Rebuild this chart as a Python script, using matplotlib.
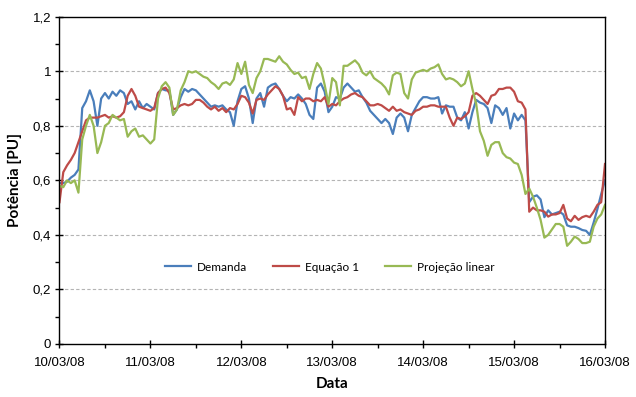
import numpy as np
import matplotlib
matplotlib.use("Agg")
import matplotlib.pyplot as plt
from matplotlib.ticker import MultipleLocator, FuncFormatter

# ---------------- data (hourly samples, 10/03/08 00h -> 16/03/08 00h) ----------------
date_labels = ["10/03/08", "11/03/08", "12/03/08", "13/03/08", "14/03/08", "15/03/08", "16/03/08"]
series_names = ["Demanda", "Equação 1", "Projeção linear"]

demanda = [
    0.59, 0.59, 0.595, 0.61, 0.62, 0.64, 0.865, 0.89, 0.93, 0.89, 0.80, 0.90, 0.92, 0.90, 0.925, 0.91, 0.93, 0.92, 0.88, 0.89, 0.86, 0.89, 0.865, 0.88, 0.87,
    0.86, 0.92, 0.935, 0.93, 0.93, 0.84, 0.86, 0.905, 0.935, 0.925, 0.935, 0.93, 0.915, 0.90, 0.885, 0.87, 0.875, 0.87, 0.875, 0.86, 0.85, 0.80, 0.89, 0.935,
    0.945, 0.90, 0.81, 0.90, 0.92, 0.87, 0.94, 0.95, 0.955, 0.935, 0.91, 0.89, 0.905, 0.90, 0.915, 0.90, 0.88, 0.84, 0.825, 0.94, 0.955, 0.925, 0.85, 0.87,
    0.905, 0.90, 0.94, 0.955, 0.94, 0.925, 0.93, 0.905, 0.885, 0.855, 0.84, 0.825, 0.81, 0.825, 0.81, 0.77, 0.83, 0.845, 0.83, 0.78, 0.84, 0.865, 0.89, 0.905,
    0.905, 0.90, 0.90, 0.905, 0.845, 0.875, 0.87, 0.87, 0.83, 0.82, 0.85, 0.79, 0.85, 0.895, 0.885, 0.88, 0.865, 0.81, 0.875, 0.865, 0.84, 0.865, 0.79, 0.845,
    0.82, 0.84, 0.82, 0.52, 0.54, 0.545, 0.53, 0.465, 0.49, 0.475, 0.48, 0.485, 0.475, 0.435, 0.43, 0.43, 0.425, 0.418, 0.415, 0.40, 0.445, 0.495, 0.55, 0.60,
]

equacao1 = [
    0.52, 0.63, 0.655, 0.675, 0.70, 0.74, 0.78, 0.82, 0.83, 0.83, 0.83, 0.835, 0.84, 0.83, 0.835, 0.83, 0.835, 0.85, 0.91, 0.935, 0.91, 0.87, 0.865, 0.86, 0.855,
    0.865, 0.92, 0.935, 0.94, 0.92, 0.86, 0.865, 0.875, 0.88, 0.875, 0.88, 0.895, 0.895, 0.885, 0.87, 0.86, 0.87, 0.855, 0.865, 0.85, 0.865, 0.86, 0.88, 0.91,
    0.905, 0.885, 0.845, 0.895, 0.90, 0.895, 0.915, 0.93, 0.945, 0.935, 0.91, 0.86, 0.865, 0.84, 0.905, 0.89, 0.90, 0.90, 0.89, 0.895, 0.89, 0.905, 0.87, 0.88,
    0.875, 0.89, 0.90, 0.905, 0.915, 0.92, 0.91, 0.905, 0.89, 0.875, 0.875, 0.88, 0.875, 0.865, 0.855, 0.87, 0.855, 0.86, 0.85, 0.845, 0.84, 0.855, 0.86, 0.87,
    0.87, 0.875, 0.875, 0.87, 0.87, 0.87, 0.83, 0.80, 0.83, 0.825, 0.835, 0.85, 0.91, 0.92, 0.91, 0.895, 0.88, 0.91, 0.915, 0.935, 0.935, 0.94, 0.94, 0.925,
    0.89, 0.885, 0.86, 0.485, 0.50, 0.49, 0.49, 0.485, 0.467, 0.475, 0.475, 0.48, 0.51, 0.46, 0.45, 0.47, 0.455, 0.465, 0.47, 0.465, 0.485, 0.51, 0.52, 0.66,
]

projecao = [
    0.58, 0.575, 0.60, 0.59, 0.60, 0.555, 0.75, 0.80, 0.84, 0.80, 0.70, 0.74, 0.80, 0.81, 0.84, 0.83, 0.82, 0.825, 0.76, 0.78, 0.79, 0.76, 0.765, 0.75, 0.735,
    0.75, 0.90, 0.945, 0.96, 0.94, 0.84, 0.86, 0.93, 0.96, 1.0, 0.995, 1.0, 0.99, 0.98, 0.975, 0.96, 0.95, 0.935, 0.955, 0.96, 0.95, 0.97, 1.03, 0.99,
    1.035, 0.95, 0.92, 0.975, 1.0, 1.045, 1.045, 1.04, 1.035, 1.055, 1.035, 1.025, 1.005, 0.99, 0.995, 0.975, 0.98, 0.935, 0.99, 1.03, 1.01, 0.95, 0.88, 0.975,
    0.96, 0.875, 1.02, 1.02, 1.03, 1.04, 1.025, 0.995, 0.985, 1.0, 0.975, 0.965, 0.955, 0.94, 0.915, 0.985, 0.995, 0.99, 0.92, 0.90, 0.97, 0.995, 1.0, 1.005,
    1.0, 1.01, 1.015, 1.025, 0.99, 0.97, 0.975, 0.97, 0.96, 0.945, 0.955, 1.0, 0.935, 0.88, 0.78, 0.745, 0.69, 0.73, 0.74, 0.74, 0.70, 0.685, 0.68, 0.665,
    0.66, 0.62, 0.55, 0.57, 0.54, 0.50, 0.455, 0.39, 0.40, 0.42, 0.44, 0.44, 0.43, 0.36, 0.375, 0.394, 0.385, 0.37, 0.37, 0.375, 0.43, 0.46, 0.475, 0.51,
]

# time axis in days (hourly samples)
t = np.arange(len(demanda)) / 24.0

# ---------------- figure ----------------
W, H = 636, 397
fig = plt.figure(figsize=(W / 100, H / 100), dpi=100)
ax = fig.add_axes([59.5 / W, 1 - 344 / H, (605 - 59.5) / W, (344 - 16.7) / H])

colors = ["#4A7EBB", "#BE4B48", "#98B954"]
for vals, name, c in zip([demanda, equacao1, projecao], series_names, colors):
    ax.plot(t, vals, color=c, lw=1.6, label=name, solid_joinstyle="round")

ax.set_xlim(0, len(date_labels) - 1)
ax.set_ylim(0, 1.2)

ax.xaxis.set_minor_locator(MultipleLocator(0.5))
ax.set_xticks(range(len(date_labels)))
ax.set_xticklabels(date_labels)
ax.yaxis.set_major_locator(MultipleLocator(0.2))
ax.yaxis.set_minor_locator(MultipleLocator(0.1))
ax.yaxis.set_major_formatter(FuncFormatter(lambda v, p: ("%g" % round(v, 1)).replace(".", ",")))

for lab in ax.get_xticklabels() + ax.get_yticklabels():
    lab.set_fontfamily("Liberation Sans")
    lab.set_fontsize(9.5)

ax.tick_params(which="major", direction="inout", length=6, width=1, color="black", pad=6)
ax.tick_params(which="minor", direction="out", length=3, width=1, color="black")
ax.tick_params(axis="y", which="major", pad=3)

for y in [0.2, 0.4, 0.6, 0.8, 1.0]:
    ax.axhline(y, color="#B4B4B4", lw=0.8, ls=(0, (3, 2)), zorder=0)

for s in ax.spines.values():
    s.set_color("black")
    s.set_linewidth(1.0)

ax.set_ylabel("Potência [PU]", fontfamily="Lato", fontweight="bold", fontsize=11, labelpad=8)
ax.set_xlabel("Data", fontfamily="Lato", fontweight="bold", fontsize=11, labelpad=6)

leg = ax.legend(loc="center", bbox_to_anchor=(0.495, 0.235), ncol=3, frameon=False,
                prop={"family": "Lato", "size": 8.5}, handlelength=2.2, columnspacing=2.2,
                handletextpad=0.5)

fig.savefig("out.png", dpi=100)
